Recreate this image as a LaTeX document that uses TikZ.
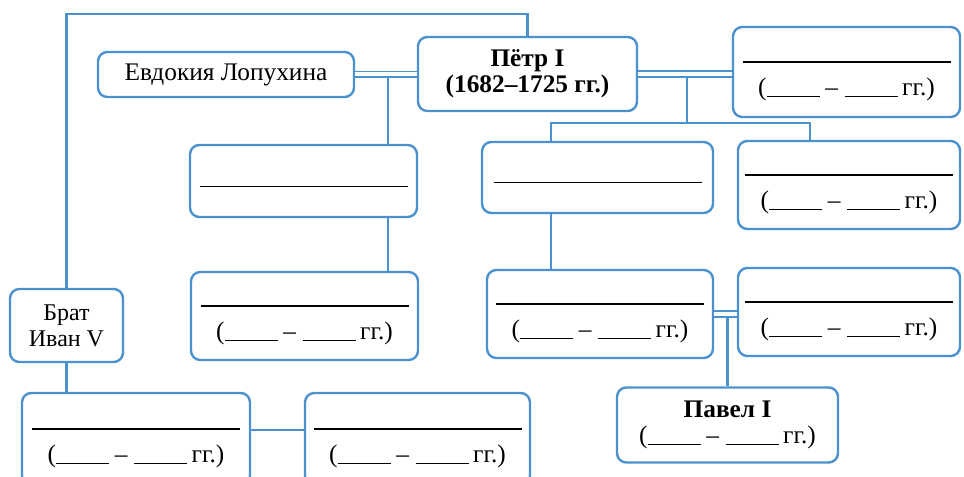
\documentclass[tikz,border=0pt]{standalone}
\usepackage{fontspec}
\setmainfont{Liberation Serif}
\newfontfamily\treefont{Liberation Serif}
\definecolor{boxblue}{RGB}{74,145,205}
\newcommand{\nameblank}{\rule{0pt}{15pt}\rule{156pt}{0.9pt}}
\newcommand{\oneblank}{\rule{0pt}{9pt}\rule{156pt}{0.9pt}}
\newcommand{\yearblank}{\rule[-1pt]{40pt}{0.8pt}}
\newcommand{\years}{(\yearblank\hspace{4pt}–\hspace{5pt}\yearblank\,гг.)}
\begin{document}
\begin{tikzpicture}[x=0.75pt, y=-0.75pt,
    box/.style={draw=boxblue, line width=1.8pt, rounded corners=7pt, fill=white,
      align=center, inner sep=0pt, font=\treefont\fontsize{19}{19.5}\selectfont},
    boxsize/.style 2 args={minimum width=#1*0.75pt, minimum height=#2*0.75pt},
    link/.style={draw=boxblue, line width=1.6pt},
    wed/.style={draw=boxblue, line width=1.4pt, double, double distance=3pt}]
    \useasboundingbox (0,0) rectangle (964,477);

    % first family
    \node[box, boxsize={256}{45}] (evd) at (226,74.5) {Евдокия Лопухина};
    \node[box, boxsize={219}{74}] (petr) at (527.5,74) {\textbf{Пётр I}\\\textbf{(1682–1725 гг.)}};
    \node[box, boxsize={227}{90}] (rtop) at (846.5,72) {\nameblank\\[5.5pt]\years};

    % children
    \node[box, boxsize={227}{72}] (c1) at (303.5,181) {\oneblank};
    \node[box, boxsize={231}{71}] (c2) at (597.5,177.5) {\oneblank};
    \node[box, boxsize={222}{88}] (c3) at (849,185) {\nameblank\\[5.5pt]\years};

    % grandchildren
    \node[box, boxsize={227}{88}] (g1) at (304.5,316) {\nameblank\\[5.5pt]\years};
    \node[box, boxsize={226}{88}] (g2) at (600,314) {\nameblank\\[5.5pt]\years};
    \node[box, boxsize={222}{88}] (g3) at (849,312) {\nameblank\\[5.5pt]\years};
    \node[box, boxsize={221}{75}] (pavel) at (727.5,425) {\textbf{Павел I}\\\years};

    % brother's line
    \node[box, boxsize={113}{73}, font=\treefont\fontsize{18}{19.5}\selectfont] (brat) at (66.5,325.5) {Брат\\Иван V};
    \node[box, boxsize={228}{92}] (i1) at (136,439) {\nameblank\\[5.5pt]\years};
    \node[box, boxsize={225}{92}] (i2) at (417.5,439) {\nameblank\\[5.5pt]\years};

    \coordinate (frame) at (65,14);
    \coordinate (evdfork) at (388,75);
    \coordinate (petrfork) at (687,73);
    \coordinate (lkid) at (551,123);
    \coordinate (rkid) at (810,123);
    \coordinate (ilink) at (0,430);

    \draw[link] (brat.north) -- (brat.north |- frame) -| (petr.north);
    \draw[link] (evdfork) -- (evdfork |- c1.north);
    \draw[link] (evdfork |- c1.south) -- (evdfork |- g1.north);
    \draw[link] (petrfork) -- (petrfork |- lkid);
    \draw[link] (lkid |- c2.north) -- (lkid) -- (rkid) -- (rkid |- c3.north);
    \draw[link] (lkid |- c2.south) -- (lkid |- g2.north);
    \draw[link] (g2.east -| pavel.north) -- (pavel.north);
    \draw[link] (brat.south) -- (brat.south |- i1.north);
    \draw[link] (i1.east |- ilink) -- (i2.west |- ilink);

    \draw[wed] (evd.east) -- (evd.east -| petr.west);
    \draw[wed] (petr.east) -- (petr.east -| rtop.west);
    \draw[wed] (g2.east) -- (g2.east -| g3.west);
\end{tikzpicture}
\end{document}
